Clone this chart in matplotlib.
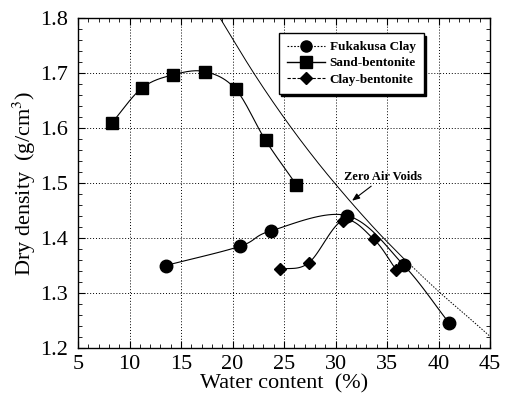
import numpy as np
import matplotlib
matplotlib.use("Agg")
import matplotlib.pyplot as plt
from matplotlib.lines import Line2D
from matplotlib.ticker import MultipleLocator

# ---- data ----
fuk_w = [13.5, 20.7, 23.7, 31.1, 36.6, 41.0]
fuk_d = [1.350, 1.385, 1.413, 1.441, 1.351, 1.246]

sand_w = [8.3, 11.2, 14.2, 17.3, 20.3, 23.2, 26.2]
sand_d = [1.610, 1.673, 1.697, 1.703, 1.671, 1.578, 1.497]

clay_w = [24.6, 27.4, 30.7, 33.7, 35.9]
clay_d = [1.343, 1.355, 1.432, 1.398, 1.342]

zav_w = [18.8, 22.0, 25.0, 28.0, 31.0, 34.0, 36.6]
zav_d = [1.800, 1.702, 1.619, 1.544, 1.476, 1.413, 1.363]
zav_w2 = [36.6, 40.0, 43.0, 45.0]
zav_d2 = [1.363, 1.303, 1.254, 1.221]

labels = ["Fukakusa Clay", "Sand-bentonite", "Clay-bentonite"]


def smooth(x, y, n=25):
    """Catmull-Rom curve through the given points (for drawing only)."""
    x = np.asarray(x, float)
    y = np.asarray(y, float)
    P = np.column_stack([x, y])
    P = np.vstack([2 * P[0] - P[1], P, 2 * P[-1] - P[-2]])
    out = []
    t = np.linspace(0, 1, n)[:, None]
    for i in range(1, len(P) - 2):
        p0, p1, p2, p3 = P[i - 1], P[i], P[i + 1], P[i + 2]
        seg = 0.5 * ((2 * p1) + (-p0 + p2) * t + (2 * p0 - 5 * p1 + 4 * p2 - p3) * t ** 2
                     + (-p0 + 3 * p1 - 3 * p2 + p3) * t ** 3)
        out.append(seg if i == 1 else seg[1:])
    out = np.vstack(out)
    return out[:, 0], out[:, 1]


plt.rcParams['font.family'] = ['Liberation Serif', 'DejaVu Serif']
plt.rcParams['mathtext.fontset'] = 'stix'

fig = plt.figure(figsize=(5.05, 4.07), dpi=100)
ax = fig.add_axes([0.1545, 0.145, 0.816, 0.81])

ax.set_xlim(5, 45)
ax.set_ylim(1.2, 1.8)

# curves
sx, sy = smooth(sand_w, sand_d)
ax.plot(sx, sy, color='k', lw=0.8)
fx, fy = smooth(fuk_w, fuk_d)
ax.plot(fx, fy, color='k', lw=0.8)
cx, cy = smooth(clay_w, clay_d)
ax.plot(cx, cy, color='k', lw=0.8)
zx, zy = smooth(zav_w, zav_d)
ax.plot(zx, zy, color='k', lw=0.7)
zx2, zy2 = smooth(zav_w2, zav_d2)
ax.plot(zx2, zy2, color='k', lw=0.7, ls=(0, (1.5, 1.5)))

# markers
ax.plot(fuk_w, fuk_d, 'o', color='k', ms=9)
ax.plot(sand_w, sand_d, 's', color='k', ms=9)
ax.plot(clay_w, clay_d, 'D', color='k', ms=6.5)

# grid & ticks
ax.xaxis.set_major_locator(MultipleLocator(5))
ax.xaxis.set_minor_locator(MultipleLocator(1))
ax.yaxis.set_major_locator(MultipleLocator(0.1))
ax.yaxis.set_minor_locator(MultipleLocator(0.02))
ax.grid(True, which='major', color='k', ls=(0, (1, 2)), lw=0.7)
ax.tick_params(which='both', direction='in', top=True, right=True, labelsize=16)
ax.tick_params(axis='y', pad=7)
ax.tick_params(axis='x', pad=5)
ax.tick_params(which='major', length=5, width=0.8)
ax.tick_params(which='minor', length=3, width=0.6)
for s in ax.spines.values():
    s.set_linewidth(1.0)
ax.set_yticks([1.2, 1.3, 1.4, 1.5, 1.6, 1.7, 1.8])
ax.set_yticklabels(['1.2', '1.3', '1.4', '1.5', '1.6', '1.7', '1.8'])

ax.set_xlabel('Water content  (%)', fontsize=16, labelpad=0)
ax.set_ylabel('Dry density  (g/cm$^3$)', fontsize=16, labelpad=2)

# annotation
ax.annotate('Zero Air Voids', xy=(31.6, 1.468), xytext=(30.8, 1.505),
            fontsize=9, fontweight='bold',
            arrowprops=dict(arrowstyle='-|>,head_length=0.5,head_width=0.2',
                            color='k', lw=0.8, shrinkA=0, shrinkB=0))

# legend
handles = [
    Line2D([], [], color='k', lw=0.8, ls=(0, (1.5, 1.5)), marker='o', ms=8),
    Line2D([], [], color='k', lw=1.0, ls='-', marker='s', ms=8),
    Line2D([], [], color='k', lw=0.8, ls=(0, (3, 1.5)), marker='D', ms=6),
]
leg = ax.legend(handles, labels, loc='upper left', bbox_to_anchor=(0.487, 0.955),
                borderaxespad=0, fancybox=False, framealpha=1, edgecolor='k',
                shadow={'color': 'k', 'alpha': 1},
                prop={'weight': 'bold', 'size': 9.5}, handlelength=2.9,
                handletextpad=0.35, labelspacing=0.3, borderpad=0.6)
leg.get_frame().set_linewidth(1.0)

fig.savefig('out.png', dpi=100)
